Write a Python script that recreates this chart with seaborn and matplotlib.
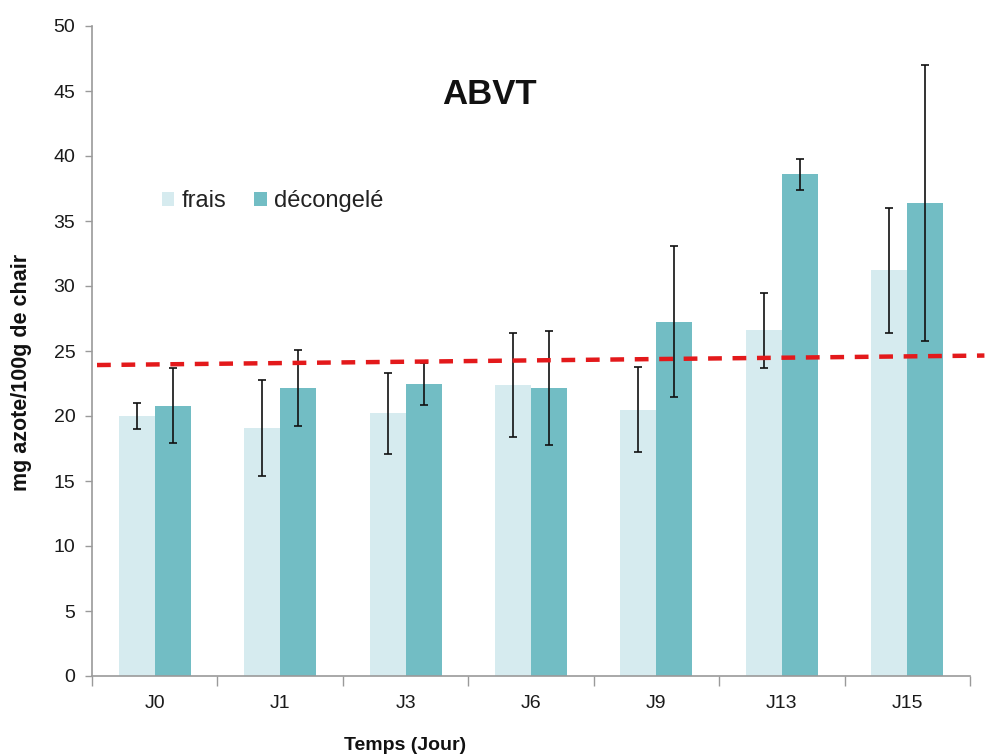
import numpy as np
import pandas as pd
import matplotlib
matplotlib.use("Agg")
import matplotlib.pyplot as plt
import seaborn as sns

# ---- data ----
jours = ["J0", "J1", "J3", "J6", "J9", "J13", "J15"]
frais = [20.0, 19.1, 20.2, 22.4, 20.5, 26.6, 31.2]
frais_err = [1.0, 3.7, 3.1, 4.0, 3.3, 2.9, 4.8]
decongele = [20.8, 22.15, 22.45, 22.15, 27.25, 38.6, 36.4]
decongele_err = [2.9, 2.95, 1.6, 4.4, 5.8, 1.2, 10.6]
series_names = ["frais", "décongelé"]
# red dashed reference/trend line (x in category units, y in mg)
trend_x = [-0.46, 6.615]
trend_y = [23.92, 24.65]

sns.set_theme(style="white")
plt.rcParams["font.family"] = ["Liberation Sans", "DejaVu Sans"]

df = pd.DataFrame({
    "jour": jours * 2,
    "valeur": frais + decongele,
    "serie": [series_names[0]] * len(jours) + [series_names[1]] * len(jours),
})

fig = plt.figure(figsize=(9.85, 7.56), dpi=100)
ax = fig.add_axes([92 / 985, 80 / 756, 878 / 985, 650 / 756])

palette = {"frais": "#d6ebef", "décongelé": "#72bdc4"}
sns.barplot(data=df, x="jour", y="valeur", hue="serie", order=jours,
            hue_order=series_names, palette=palette, width=0.574, gap=0,
            errorbar=None, saturation=1, ax=ax, legend=True,
            linewidth=0, edgecolor="none")

for cont, err in zip(ax.containers, [frais_err, decongele_err]):
    xs = [b.get_x() + b.get_width() / 2 for b in cont]
    ys = [b.get_height() for b in cont]
    ax.errorbar(xs, ys, yerr=err, fmt="none", ecolor="#111111",
                elinewidth=1.2, capsize=2.7, capthick=1.2, zorder=5)

ax.plot(trend_x, trend_y, color="#e3191b", lw=3.2,
        linestyle=(0, (3.1, 2.4)), clip_on=False, zorder=6)

ax.set_ylim(0, 50)
ax.set_xlim(-0.5, len(jours) - 0.5)
ax.set_yticks(np.arange(0, 51, 5))
ax.set_xticks(np.arange(-0.5, len(jours), 1.0), minor=True)
ax.tick_params(axis="x", which="major", length=0, pad=14, labelsize=14,
               labelcolor="#1a1a1a")
ax.tick_params(axis="x", which="minor", length=7, width=1, color="#9a9a9a",
               direction="out", bottom=True)
ax.tick_params(axis="y", length=5, width=1, color="#9a9a9a", direction="out",
               left=True, pad=7, labelsize=14, labelcolor="#1a1a1a")

for s in ["top", "right"]:
    ax.spines[s].set_visible(False)
for s in ["left", "bottom"]:
    ax.spines[s].set_color("#9a9a9a")
    ax.spines[s].set_linewidth(1.2)

ax.set_xlabel("")
ax.set_ylabel("")
fig.text(22 / 985, 1 - 372 / 756, "mg azote/100g de chair", rotation=90,
         ha="center", va="center", fontsize=15.5, fontweight="bold",
         color="#111111")
fig.text(405 / 985, 1 - 754 / 756, "Temps (Jour)", ha="center", va="bottom",
         fontsize=14, fontweight="bold", color="#111111")
fig.text(489 / 985, 1 - 94 / 756, "ABVT", ha="center", va="center",
         fontsize=25, fontweight="bold", color="#111111")

handles, labels = ax.get_legend_handles_labels()
ax.legend(handles, labels, loc="center left",
          bbox_to_anchor=(162 / 985, 1 - 201 / 756),
          bbox_transform=fig.transFigure, ncol=2, frameon=False,
          fontsize=17, handlelength=0.52, handleheight=0.52,
          handletextpad=0.3, columnspacing=1.2, borderpad=0,
          borderaxespad=0, labelcolor="#222222")

fig.savefig("out.png", dpi=100)
